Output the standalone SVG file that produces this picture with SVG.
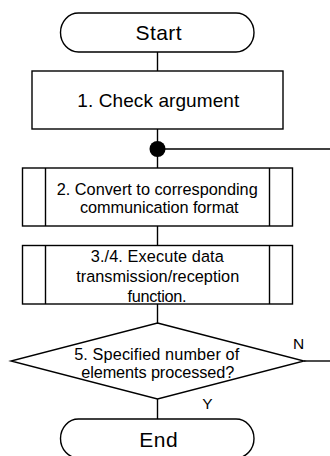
<svg xmlns="http://www.w3.org/2000/svg" width="330" height="456" viewBox="0 0 330 456">
  <style>
    .shape { fill: #ffffff; stroke: #000000; stroke-width: 1.4; }
    .line { fill: none; stroke: #000000; stroke-width: 1.4; }
    .label { font-family: "Liberation Sans", Arial, sans-serif; fill: #000000; text-anchor: middle; }
    .term { font-size: 21px; }
    .proc { font-size: 19px; }
    .body { font-size: 16.3px; }
    .flag { font-size: 15.5px; }
  </style>
  <rect width="330" height="456" fill="#ffffff"/>

  <!-- connectors -->
  <g id="connectors">
    <line class="line" x1="157.5" y1="52" x2="157.5" y2="71"/>
    <line class="line" x1="157.5" y1="129" x2="157.5" y2="168"/>
    <line class="line" x1="157.5" y1="149" x2="330" y2="149"/>
    <circle cx="157.5" cy="149" r="8" fill="#000000"/>
    <line class="line" x1="157.5" y1="226" x2="157.5" y2="245.5"/>
    <line class="line" x1="157.5" y1="304" x2="157.5" y2="323"/>
    <line class="line" x1="304" y1="361" x2="330" y2="361"/>
    <line class="line" x1="157.5" y1="399" x2="157.5" y2="419"/>
    <text class="label flag" x="298.5" y="348.5">N</text>
    <text class="label flag" x="207.5" y="408.5">Y</text>
  </g>

  <!-- Start terminal -->
  <g id="start">
    <rect class="shape" x="60.5" y="13" width="193.5" height="39" rx="18" ry="19.5"/>
    <text class="label term" x="158.5" y="39.5" textLength="46">Start</text>
  </g>

  <!-- step 1 -->
  <g id="check-argument">
    <rect class="shape" x="32" y="71" width="251" height="58"/>
    <text class="label proc" x="158.3" y="107" textLength="162">1. Check argument</text>
  </g>

  <!-- step 2: predefined process -->
  <g id="convert-format">
    <rect class="shape" x="22.5" y="168" width="270" height="58"/>
    <line class="line" x1="45.5" y1="168" x2="45.5" y2="226"/>
    <line class="line" x1="269.5" y1="168" x2="269.5" y2="226"/>
    <text class="label body" x="157.2" y="194.5" textLength="201">2. Convert to corresponding</text>
    <text class="label body" x="159.3" y="213" textLength="158.7">communication format</text>
  </g>

  <!-- steps 3/4: predefined process -->
  <g id="execute-transfer">
    <rect class="shape" x="22.5" y="245.5" width="270" height="58.5"/>
    <line class="line" x1="45.5" y1="245.5" x2="45.5" y2="304"/>
    <line class="line" x1="269.5" y1="245.5" x2="269.5" y2="304"/>
    <text class="label body" x="157.3" y="262" textLength="133">3./4. Execute data</text>
    <text class="label body" x="157.7" y="282" textLength="163">transmission/reception</text>
    <text class="label body" x="157" y="302" textLength="59">function.</text>
  </g>

  <!-- step 5: decision -->
  <g id="elements-done">
    <polygon class="shape" points="157.5,323 304,361 157.5,399 11,361"/>
    <text class="label body" x="156.7" y="359.5" textLength="165">5. Specified number of</text>
    <text class="label body" x="157.7" y="378" textLength="153">elements processed?</text>
  </g>

  <!-- End terminal -->
  <g id="end">
    <rect class="shape" x="60.5" y="419" width="193.5" height="39" rx="18" ry="19.5"/>
    <text class="label term" x="158.5" y="447" textLength="38.3">End</text>
  </g>
</svg>
